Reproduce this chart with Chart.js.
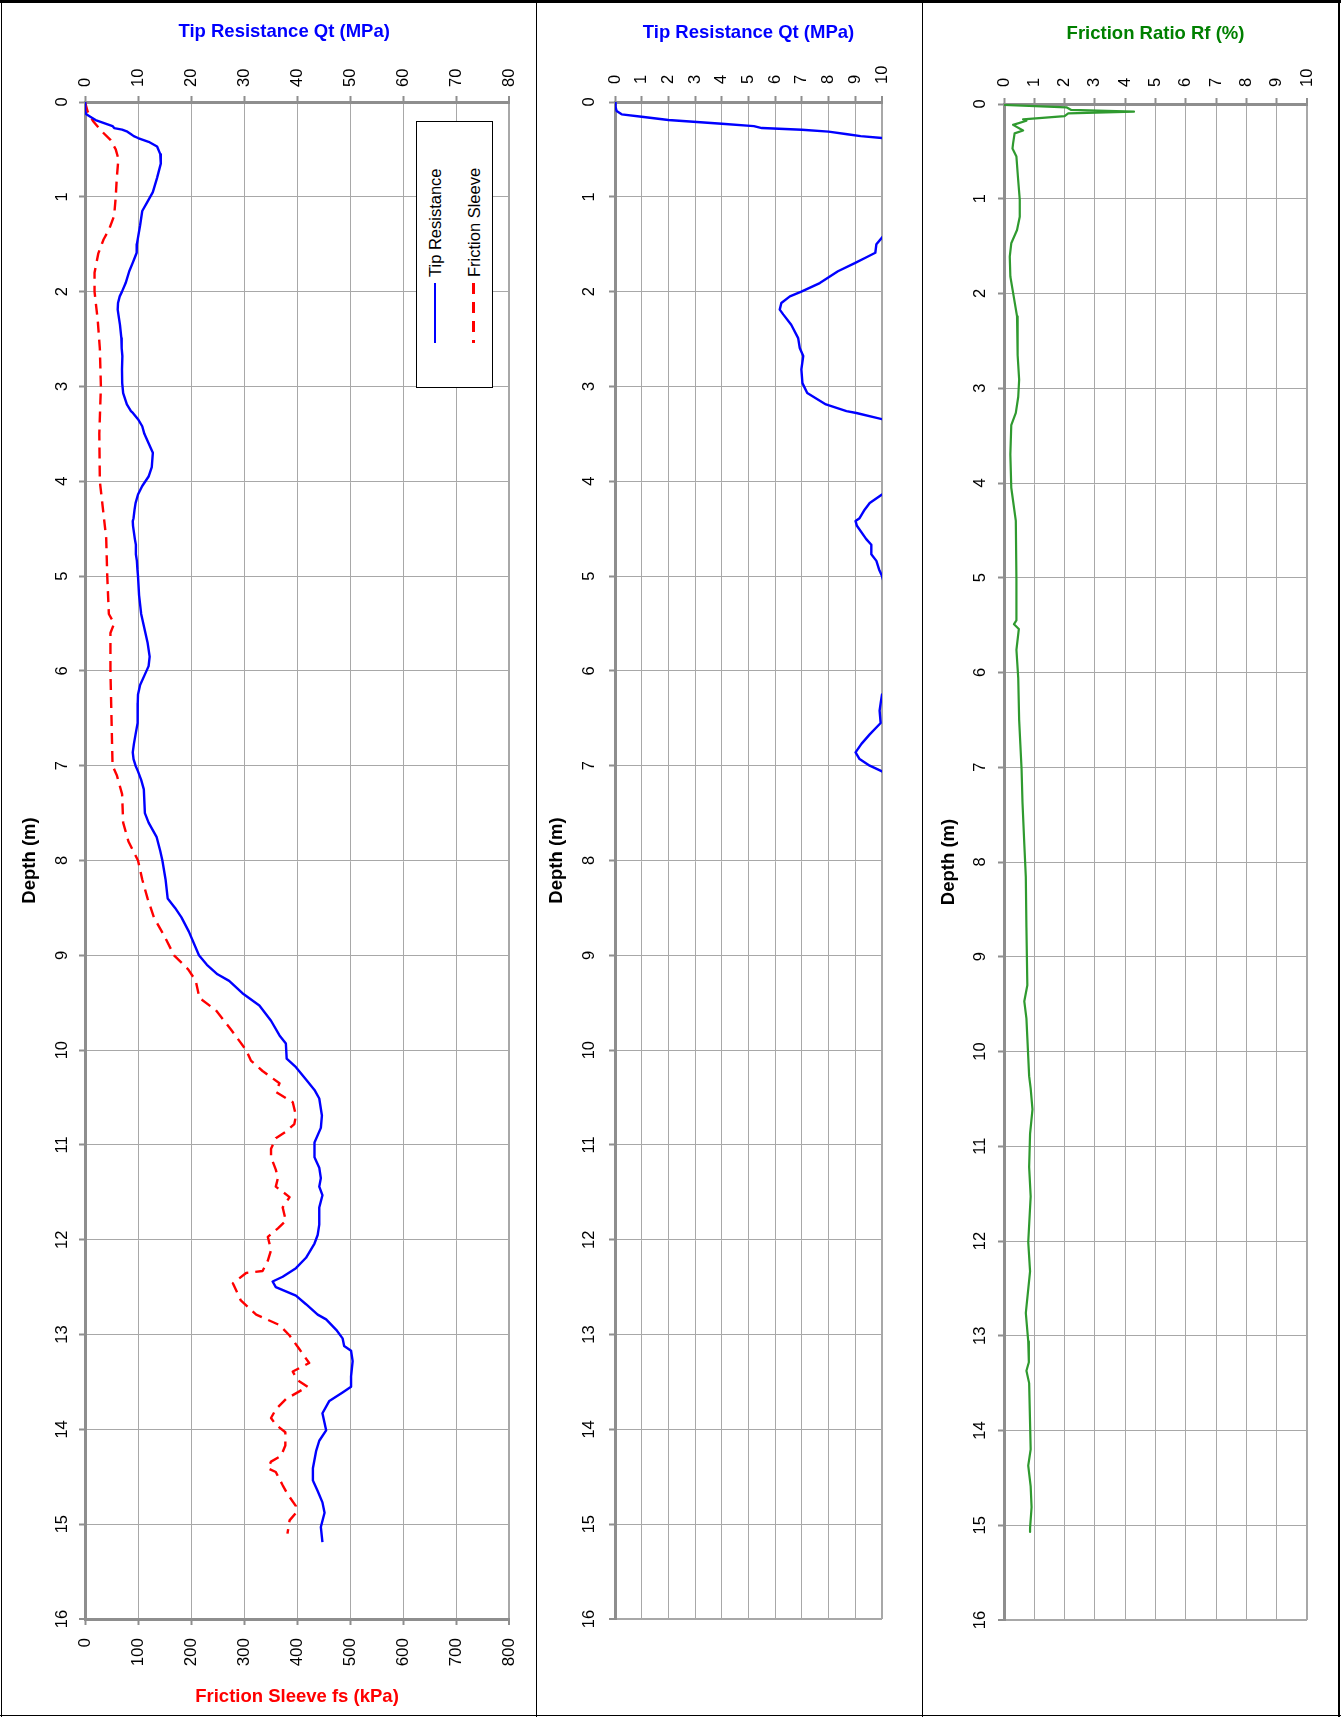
<!DOCTYPE html>
<html>
<head>
<meta charset="utf-8">
<title>CPT profile</title>
<script src="https://cdn.jsdelivr.net/npm/chart.js@4.4.1/dist/chart.umd.min.js"></script>
<style>
  html, body { margin: 0; padding: 0; background: #fff; }
  #page { position: relative; width: 1343px; height: 1717px; overflow: hidden; font-family: "Liberation Sans", Arial, sans-serif; }
  #page canvas { position: absolute; top: 0; }
  .rule { position: absolute; background: #000; z-index: 2; }
  #legend { position: absolute; left: 416px; top: 121px; width: 77px; height: 267px; border: 1px solid #000; box-sizing: border-box; background: #fff; z-index: 3; }
  #legend .lbl { position: absolute; top: 155px; white-space: nowrap; font-size: 16.5px; line-height: 18px; transform-origin: 0 50%; transform: translateY(-50%) rotate(-90deg); }
  #legend .key { position: absolute; top: 161px; width: 2.5px; height: 60px; }
</style>
</head>
<body>
<div id="page">
  <canvas id="c1" width="536" height="1717" style="left:0"></canvas>
  <canvas id="c2" width="385" height="1717" style="left:537px"></canvas>
  <canvas id="c3" width="415" height="1717" style="left:923px"></canvas>

  <div class="rule" style="left:0;top:0;width:1341px;height:3px"></div>
  <div class="rule" style="left:1px;top:0;width:1px;height:1717px"></div>
  <div class="rule" style="left:1338px;top:0;width:2px;height:1717px"></div>
  <div class="rule" style="left:0;top:1715px;width:1341px;height:1px"></div>
  <div class="rule" style="left:536px;top:0;width:1px;height:1717px"></div>
  <div class="rule" style="left:922px;top:0;width:1px;height:1717px"></div>

  <div id="legend">
    <span class="lbl" style="left:18px">Tip Resistance</span>
    <div class="key" style="left:16.7px;background:#0000ff"></div>
    <span class="lbl" style="left:56.5px">Friction Sleeve</span>
    <div class="key" style="left:55.2px;background:repeating-linear-gradient(to bottom,#ff0000 0 11px,transparent 11px 19px)"></div>
  </div>
</div>

<script>
// tip resistance Qt (MPa) against depth (m)
const qtDepth = [0, 0.05, 0.095, 0.13, 0.155, 0.19, 0.23, 0.254, 0.275, 0.292, 0.313, 0.34, 0.36, 0.38,
  0.42, 0.47, 0.55, 0.65, 0.8, 0.95, 1.05, 1.15, 1.3, 1.43, 1.5, 1.59, 1.64, 1.7, 1.785, 1.91,
  2.0, 2.05, 2.12, 2.19, 2.24, 2.35, 2.49, 2.595, 2.68, 2.82, 2.965, 3.07, 3.19, 3.26, 3.28, 3.345,
  3.42, 3.5, 3.6, 3.7, 3.85, 3.95, 4.05, 4.14, 4.23, 4.3, 4.39, 4.42, 4.47, 4.61, 4.67, 4.77, 4.84,
  4.93, 5.0, 5.2, 5.4, 5.55, 5.7, 5.85, 5.95, 6.05, 6.15, 6.25, 6.34, 6.42, 6.55, 6.67, 6.77, 6.86,
  6.93, 7.0, 7.06, 7.15, 7.25, 7.5, 7.6, 7.75, 7.9, 8.0, 8.2, 8.4, 8.5, 8.6, 8.75, 9.0, 9.1, 9.2,
  9.27, 9.4, 9.53, 9.69, 9.845, 9.93, 10.09, 10.18, 10.31, 10.42, 10.51, 10.69, 10.82, 10.975, 11.13,
  11.24, 11.35, 11.44, 11.53, 11.66, 11.84, 11.95, 12.04, 12.19, 12.3, 12.39, 12.44, 12.5, 12.59,
  12.68, 12.79, 12.84, 12.95, 13.04, 13.12, 13.17, 13.28, 13.44, 13.55, 13.61, 13.7, 13.83, 14.01,
  14.12, 14.23, 14.41, 14.54, 14.65, 14.77, 14.88, 15.03, 15.19];
const qtValues = [0, 0.02, 0.06, 0.25, 1.0, 2.0, 4.0, 5.2, 5.5, 7.0, 8.0, 8.7, 9.2, 10.0,
  12.0, 13.6, 14.2, 14.3, 13.6, 12.8, 11.8, 10.8, 10.4, 10.0, 9.79, 9.75, 9.4, 8.98, 8.35, 7.67,
  6.98, 6.55, 6.23, 6.17, 6.3, 6.6, 6.86, 6.92, 7.05, 6.98, 7.02, 7.2, 7.9, 8.67, 9.04, 10.0,
  10.8, 11.2, 12.0, 12.8, 12.6, 12.0, 10.8, 10.0, 9.54, 9.35, 9.16, 9.01, 9.06, 9.41, 9.6, 9.6, 9.79,
  9.89, 10.0, 10.2, 10.6, 11.2, 11.8, 12.2, 12.0, 11.2, 10.4, 10.0, 9.95, 9.91, 9.95, 9.54, 9.23, 9.01,
  9.16, 9.54, 10.0, 10.6, 11.1, 11.3, 12.0, 13.5, 14.2, 14.6, 15.2, 15.6, 17.0, 18.2, 19.6, 21.5, 23.0, 25.0,
  27.2, 29.7, 32.9, 35.1, 36.7, 37.9, 38.05, 39.8, 41.7, 43.3, 44.2, 44.7, 44.5, 43.3, 43.3,
  44.2, 44.5, 44.2, 44.8, 44.2, 44.2, 43.9, 43.3, 41.7, 39.8, 37.3, 35.4, 36.0, 39.8,
  41.7, 43.9, 45.5, 47.4, 48.6, 48.9, 50.2, 50.5, 50.2, 50.2, 48.6, 46.1, 44.8, 45.5,
  44.2, 43.6, 43.0, 43.0, 43.9, 44.8, 45.2, 44.5, 44.8];

// friction sleeve fs (kPa) against depth (m)
const fsDepth = [0, 0.1, 0.2, 0.3, 0.4, 0.5, 0.6, 0.8, 1.0, 1.2, 1.35, 1.45, 1.6, 1.8, 2.0, 2.3, 2.6,
  3.0, 3.5, 4.0, 4.3, 4.6, 5.0, 5.4, 5.5, 5.6, 6.0, 6.5, 7.0, 7.1, 7.3, 7.6, 7.8, 8.0, 8.2, 8.4,
  8.6, 8.8, 9.0, 9.15, 9.27, 9.45, 9.58, 9.78, 10.0, 10.11, 10.22, 10.35, 10.44, 10.55, 10.69,
  10.78, 10.86, 10.93, 11.04, 11.13, 11.26, 11.35, 11.44, 11.55, 11.66, 11.8, 11.88, 11.97, 12.11,
  12.22, 12.33, 12.35, 12.46, 12.64, 12.79, 12.9, 13.01, 13.15, 13.3, 13.39, 13.48, 13.55, 13.68,
  13.79, 13.88, 13.95, 14.03, 14.17, 14.28, 14.34, 14.41, 14.45, 14.59, 14.68, 14.81, 14.88,
  14.96, 15.1];
const fsValues = [0, 5, 15, 30, 48, 58, 63, 60, 58, 55, 45, 35, 25, 18, 18, 24, 28,
  30, 27, 28, 34, 40, 42, 45, 55, 48, 48, 50, 52, 60, 70, 72, 82, 100, 108, 118,
  130, 150, 168, 195, 209, 216, 247, 275, 304, 313, 335, 367, 360, 392, 398,
  395, 379, 360, 351, 351, 360, 364, 360, 386, 373, 379, 364, 345, 351,
  345, 335, 304, 279, 294, 323, 367, 386, 404, 423, 392, 401, 420, 379,
  360, 351, 360, 378, 378, 370, 351, 345, 360, 373, 382, 398, 398,
  386, 382];

// friction ratio Rf (%) against depth (m)
const rfDepth = [0, 0.01, 0.035, 0.063, 0.081, 0.098, 0.127, 0.162, 0.176, 0.22, 0.28, 0.31, 0.415,
  0.47, 0.555, 0.77, 1.01, 1.19, 1.33, 1.47, 1.61, 1.82, 2.03, 2.24, 2.47, 2.65, 2.91, 3.09, 3.26,
  3.39, 3.7, 4.05, 4.4, 5.01, 5.45, 5.49, 5.54, 5.76, 6.06, 6.5, 6.76, 7.02, 7.37, 7.81, 8.16, 8.69,
  9.3, 9.47, 9.65, 10.26, 10.39, 10.61, 10.87, 11.22, 11.53, 12.01, 12.32, 12.76, 13.06, 13.28,
  13.37, 13.5, 14.2, 14.37, 14.59, 14.81, 15.03, 15.07];
const rfValues = [0, 0, 2.06, 2.22, 4.29, 2.12, 2.0, 0.63, 0.74, 0.3, 0.63, 0.35, 0.3,
  0.28, 0.41, 0.46, 0.52, 0.52, 0.43, 0.24, 0.19, 0.21, 0.32, 0.43, 0.46, 0.44, 0.5, 0.47, 0.39,
  0.24, 0.21, 0.24, 0.39, 0.41, 0.41, 0.33, 0.49, 0.41, 0.47, 0.5, 0.54, 0.58, 0.61, 0.67, 0.72, 0.74,
  0.77, 0.67, 0.74, 0.83, 0.88, 0.94, 0.86, 0.83, 0.88, 0.8, 0.86, 0.72, 0.8, 0.82,
  0.74, 0.83, 0.88, 0.8, 0.88, 0.91, 0.86, 0.86];

// axis ranges
const depthRange = [0, 16];
const qtRange = [0, 80];
const qtZoomRange = [0, 10];
const fsRange = [0, 800];
const rfRange = [0, 10];

Chart.defaults.font.family = '"Liberation Sans", Arial, Helvetica, sans-serif';
Chart.defaults.color = '#000';

const AXIS_GREY = '#8e8e8e';
const GRID_GREY = '#a8a8a8';
const TITLE_FONT = { size: 18.5, weight: 'bold' };
const TICK_SIZE = 16.5;

function pairs(depths, values) {
  return depths.map((d, i) => ({ x: values[i], y: d }));
}

// pin each axis box to the size
function sized(px) {
  return function (scale) {
    if (scale.isHorizontal()) scale.height = px;
    else scale.width = px;
    scale.paddingLeft = 0;
    scale.paddingRight = 0;
    scale.paddingTop = 0;
    scale.paddingBottom = 0;
  };
}

function gridFor(max, onChart) {
  return {
    drawOnChartArea: onChart,
    color: GRID_GREY,
    lineWidth: c => (c.tick && c.tick.value === max ? 2 : 1),
    tickLength: 6,
    tickColor: AXIS_GREY,
    tickWidth: 2
  };
}

function depthAxis(width, titlePad, tickPad) {
  return {
    type: 'linear', position: 'left', reverse: true,
    min: depthRange[0], max: depthRange[1],
    afterFit: sized(width),
    border: { color: AXIS_GREY, width: 3 },
    grid: gridFor(depthRange[1], true),
    ticks: { stepSize: 1, autoSkip: false, minRotation: 90, maxRotation: 90, crossAlign: 'center',
      padding: tickPad, font: { size: TICK_SIZE } },
    title: { display: true, text: 'Depth (m)', font: TITLE_FONT, padding: titlePad }
  };
}

function valueAxis(o) {
  // rotated labels on a top axis sit one line height to the left, so push them back
  const shift = o.position === 'top' ? o.tickSize * 1.2 : 0;
  return {
    type: 'linear', position: o.position, min: o.range[0], max: o.range[1],
    afterFit: sized(o.height),
    border: { color: AXIS_GREY, width: 3 },
    grid: gridFor(o.range[1], o.onChart),
    ticks: { stepSize: o.step, autoSkip: false, minRotation: 90, maxRotation: 90,
      padding: o.tickPad, labelOffset: shift, font: { size: o.tickSize } },
    title: { display: true, text: o.title, color: o.color, font: TITLE_FONT, padding: o.titlePad }
  };
}

function line(data, color, width, xAxisID, extra) {
  return Object.assign({
    data: data, xAxisID: xAxisID, yAxisID: 'y', showLine: true,
    borderColor: color, backgroundColor: color, borderWidth: width,
    pointRadius: 0, tension: 0, borderJoinStyle: 'round', fill: false
  }, extra || {});
}

const common = {
  responsive: false, animation: false, events: [],
  plugins: { legend: { display: false }, tooltip: { enabled: false } }
};

new Chart(document.getElementById('c1'), {
  type: 'scatter',
  data: {
    datasets: [
      line(pairs(qtDepth, qtValues), '#0000ff', 2.4, 'xq'),
      line(pairs(fsDepth, fsValues), '#ff0000', 2.4, 'xf', { borderDash: [11, 7] })
    ]
  },
  options: Object.assign({}, common, {
    layout: { autoPadding: false, padding: { left: 0, top: 0, right: 27, bottom: 0 } },
    scales: {
      // the title sits a little left of the plot centre in the original
      xq: valueAxis({ position: 'top', range: qtRange, step: 10, height: 102, onChart: true,
        title: 'Tip Resistance Qt (MPa)\u00a0\u00a0\u00a0\u00a0\u00a0', color: '#0000ff',
        titlePad: { top: 21 }, tickPad: 9, tickSize: TICK_SIZE }),
      xf: valueAxis({ position: 'bottom', range: fsRange, step: 100, height: 98, onChart: false,
        title: 'Friction Sleeve fs (kPa)', color: '#ff0000', titlePad: { bottom: 9 }, tickPad: 13, tickSize: 17 }),
      y: depthAxis(85, 19, 7)
    }
  })
});

new Chart(document.getElementById('c2'), {
  type: 'scatter',
  data: {
    datasets: [line(pairs(qtDepth, qtValues), '#0000ff', 2.4, 'xq', { clip: 0 })]
  },
  options: Object.assign({}, common, {
    layout: { autoPadding: false, padding: { left: 0, top: 0, right: 40, bottom: 98 } },
    scales: {
      xq: valueAxis({ position: 'top', range: qtZoomRange, step: 1, height: 102, onChart: true,
        title: 'Tip Resistance Qt (MPa)', color: '#0000ff', titlePad: { top: 22 }, tickPad: 12, tickSize: TICK_SIZE }),
      y: depthAxis(78, 9, 10)
    }
  })
});

new Chart(document.getElementById('c3'), {
  type: 'scatter',
  data: {
    datasets: [line(pairs(rfDepth, rfValues), '#2f9a2f', 2.2, 'xr')]
  },
  options: Object.assign({}, common, {
    layout: { autoPadding: false, padding: { left: 0, top: 0, right: 31, bottom: 97 } },
    scales: {
      xr: valueAxis({ position: 'top', range: rfRange, step: 1, height: 104, onChart: true,
        title: 'Friction Ratio Rf (%)', color: '#008000', titlePad: { top: 23 }, tickPad: 11, tickSize: TICK_SIZE }),
      y: depthAxis(81, 15, 8)
    }
  })
});
</script>
</body>
</html>
